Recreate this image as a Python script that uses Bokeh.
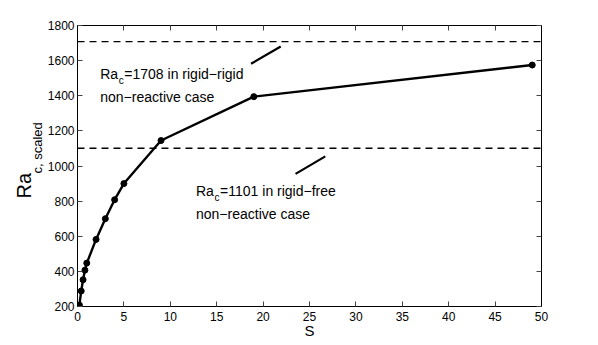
from bokeh.plotting import figure
from bokeh.models import (Range1d, LinearAxis, FixedTicker, Label, Span,
                          ColumnDataSource, Title)
from bokeh.embed import file_html
from bokeh.resources import INLINE

# ---- data ----
S_values = [0.2, 0.4, 0.6, 0.8, 1, 2, 3, 4, 5, 9, 19, 49]
Ra_scaled = [208, 288, 352, 407, 447, 582, 700, 808, 900, 1145, 1395, 1575]
ref_levels = [1708, 1101]
x_ticks = [0, 5, 10, 15, 20, 25, 30, 35, 40, 45, 50]
y_ticks = [200, 400, 600, 800, 1000, 1200, 1400, 1600, 1800]
# leader lines from annotation text to reference lines
lead_x0 = [18.7, 23.5]
lead_y0 = [1582, 955]
lead_x1 = [21.9, 26.7]
lead_y1 = [1680, 1055]

FONT = "Liberation Sans"

p = figure(width=590, height=341, output_backend="svg", toolbar_location=None,
           x_range=Range1d(0, 50), y_range=Range1d(200, 1800),
           frame_width=464, frame_height=281,
           min_border_left=77, min_border_right=49,
           min_border_top=25, min_border_bottom=35,
           x_axis_location=None, y_axis_location=None)
p.xgrid.visible = False
p.ygrid.visible = False
p.outline_line_color = "black"
p.outline_line_width = 1
p.background_fill_color = "white"
p.border_fill_color = "white"


def style_axis(ax, ticks, show_labels, standoff):
    ax.ticker = FixedTicker(ticks=ticks)
    ax.axis_line_color = "black"
    ax.axis_line_width = 1
    ax.major_tick_in = 5
    ax.major_tick_out = 0
    ax.major_tick_line_color = "#444444"
    ax.minor_tick_line_color = None
    ax.major_label_text_font = FONT
    ax.major_label_text_font_size = "12px"
    ax.major_label_text_color = "black"
    ax.major_label_standoff = standoff
    if not show_labels:
        ax.major_label_text_color = None
        ax.major_label_text_font_size = "1px"


bx = LinearAxis(axis_label="S", axis_label_text_font=FONT,
                axis_label_text_font_size="15px",
                axis_label_text_font_style="normal",
                axis_label_text_color="black",
                axis_label_standoff=-2)
style_axis(bx, x_ticks, True, 5)
p.add_layout(bx, "below")
lx = LinearAxis()
style_axis(lx, y_ticks, True, 3)
p.add_layout(lx, "left")
tx = LinearAxis()
style_axis(tx, x_ticks, False, 0)
p.add_layout(tx, "above")
rx = LinearAxis()
style_axis(rx, y_ticks, False, 0)
p.add_layout(rx, "right")

# y-axis title with subscript: "Ra" + "c, scaled"
p.add_layout(Title(text="c, scaled", text_font=FONT, text_font_size="13px",
                   text_font_style="normal", text_color="black",
                   align="left", offset=133, standoff=0), "left")
p.add_layout(Title(text="Ra", text_font=FONT, text_font_size="20px",
                   text_font_style="normal", text_color="black",
                   align="left", offset=108, standoff=-15), "left")

# reference dashed lines
for lvl in ref_levels:
    p.add_layout(Span(location=lvl, dimension="width", line_color="black",
                      line_width=1.3, line_dash="7 5"))

# data
src = ColumnDataSource(dict(x=S_values, y=Ra_scaled))
p.line("x", "y", source=src, line_color="black", line_width=2.4)
p.scatter("x", "y", source=src, size=6, fill_color="black", line_color="black")

# leader lines
p.segment(x0=lead_x0, y0=lead_y0, x1=lead_x1, y1=lead_y1,
          line_color="black", line_width=2.2)


def txt(x, y, text, size=14, **kw):
    p.add_layout(Label(x=x, y=y, text=text, text_font=FONT,
                       text_font_size=f"{size}px", text_color="black",
                       text_baseline="alphabetic", **kw))


def rich(x, y, main, sub, rest, size=14, sub_size=10, ra_w=18.6):
    txt(x, y, main, size)
    txt(x, y, sub, sub_size, x_offset=ra_w, y_offset=-6.5)
    txt(x, y, rest, size, x_offset=ra_w + 5.5)


rich(2.45, 1526, "Ra", "c", "=1708 in rigid\u2212rigid")
txt(2.45, 1392, "non\u2212reactive case")
rich(12.77, 860, "Ra", "c", "=1101 in rigid\u2212free")
txt(12.77, 728, "non\u2212reactive case")

open("out.html", "w").write(file_html(p, INLINE))
